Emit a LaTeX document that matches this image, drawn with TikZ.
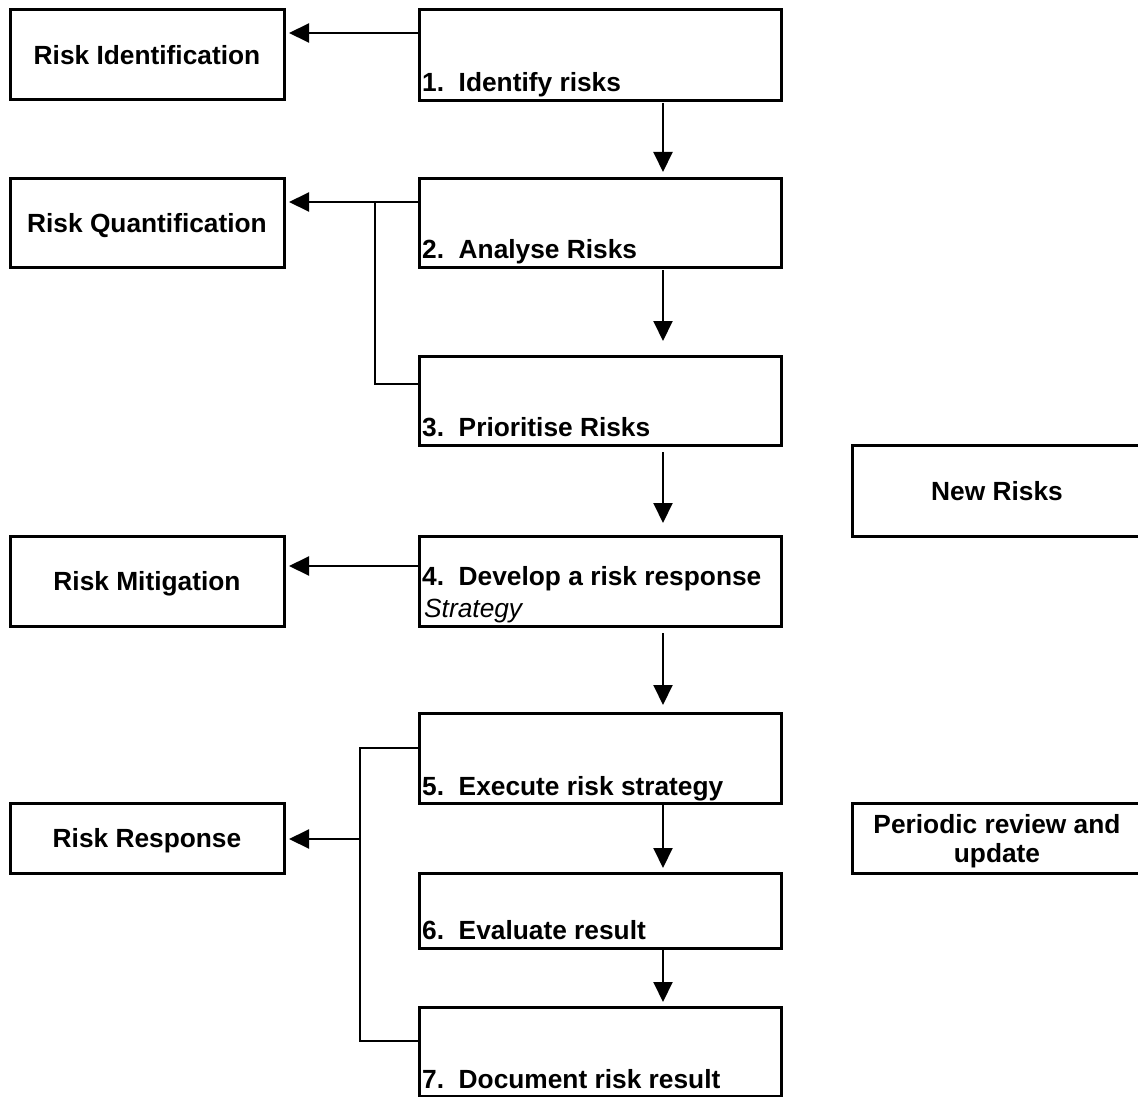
\documentclass[tikz,border=0pt]{standalone}
\usepackage{fontspec}
\setmainfont{Liberation Sans}
\usetikzlibrary{arrows.meta}
\begin{document}
\begin{tikzpicture}[x=1pt,y=-1pt,
  box/.style={draw, line width=3pt, inner sep=0pt, outer sep=0pt, font=\fontsize{26.3}{30}\selectfont\bfseries},
  lbox/.style={box, minimum width=274pt, text height=19pt, text depth=0pt},
  rbox/.style={box, minimum width=362pt},
  lbl/.style={anchor=base west, inner sep=0pt, font=\fontsize{26.3}{30}\selectfont\bfseries},
  itl/.style={anchor=base west, inner sep=0pt, font=\fontsize{26.3}{30}\selectfont\itshape},
  ctr/.style={anchor=base, inner sep=0pt, font=\fontsize{26.3}{30}\selectfont\bfseries},
  arr/.style={line width=2pt, -{Triangle[length=20pt,width=19pt]}},
  brk/.style={line width=1.6pt}]
\useasboundingbox (0,0) rectangle (1138,1097);
% left boxes
\node[lbox, minimum height=90pt] (ri) at (147,55) {Risk Identification};
\node[lbox, minimum height=89pt] (rq) at (147,222.5) {Risk Quantification};
\node[lbox, minimum height=90pt] (rm) at (147,581) {Risk Mitigation};
\node[lbox, minimum height=70pt] (rr) at (147,838) {Risk Response};
% right column boxes
\node[rbox, minimum height=91pt] (r1) at (600,55.5) {};
\node[rbox, minimum height=89pt] (r2) at (600,222.5) {};
\node[rbox, minimum height=89pt] (r3) at (600,400.5) {};
\node[rbox, minimum height=90pt] (r4) at (600,581) {};
\node[rbox, minimum height=90pt] (r5) at (600,758) {};
\node[rbox, minimum height=75pt] (r6) at (600,910.5) {};
\node[rbox, minimum height=89pt] (r7) at (600,1051.5) {};
\node[lbl] (t1) at (422,92) {1.\ \ Identify risks};
\node[lbl] (t2) at (422,258) {2.\ \ Analyse Risks};
\node[lbl] (t3) at (422,436) {3.\ \ Prioritise Risks};
\node[lbl] (t4) at (422,585) {4.\ \ Develop a risk response};
\node[itl] (t4b) at (424,617) {Strategy};
\node[lbl] (t5) at (422,795) {5.\ \ Execute risk strategy};
\node[lbl] (t6) at (422,939) {6.\ \ Evaluate result};
\node[lbl] (t7) at (422,1088) {7.\ \ Document risk result};
% far right boxes
\node[box, minimum width=290pt, minimum height=91pt, text height=19pt, text depth=0pt] (nr) at (997,490.5) {New Risks};
\node[box, minimum width=290pt, minimum height=70pt] (pr) at (997,838) {};
\node[ctr] (pr1) at (997,833) {Periodic review and};
\node[ctr] (pr2) at (997,862) {update};
% horizontal connectors
\coordinate (h1) at (350,33);
\draw[arr, shorten >=5pt] (r1.west |- h1) -- (ri.east |- h1);
\coordinate (jq) at (375,202);
\coordinate (jq3) at (375,384);
\draw[arr, shorten >=5pt] (r2.west |- jq) -- (rq.east |- jq);
\draw[brk] (jq) -- (jq3) -- (r3.west |- jq3);
\coordinate (h4) at (350,566);
\draw[arr, shorten >=5pt] (r4.west |- h4) -- (rm.east |- h4);
\coordinate (ja) at (360,748);
\coordinate (jb) at (360,1041);
\coordinate (jm) at (360,839);
\draw[brk] (r5.west |- ja) -- (ja) -- (jb) -- (r7.west |- jb);
\draw[arr, shorten >=5pt] (jm) -- (rr.east |- jm);
% vertical arrows
\coordinate (vx) at (663,0);
\draw[arr, shorten <=2pt, shorten >=6pt] (r1.south -| vx) -- (r2.north -| vx);
\draw[arr, shorten <=3pt, shorten >=15pt] (r2.south -| vx) -- (r3.north -| vx);
\draw[arr, shorten <=7pt, shorten >=13pt] (r3.south -| vx) -- (r4.north -| vx);
\draw[arr, shorten <=7pt, shorten >=8pt] (r4.south -| vx) -- (r5.north -| vx);
\draw[arr, shorten <=2pt, shorten >=5pt] (r5.south -| vx) -- (r6.north -| vx);
\draw[arr, shorten <=2pt, shorten >=5pt] (r6.south -| vx) -- (r7.north -| vx);
\end{tikzpicture}
\end{document}
